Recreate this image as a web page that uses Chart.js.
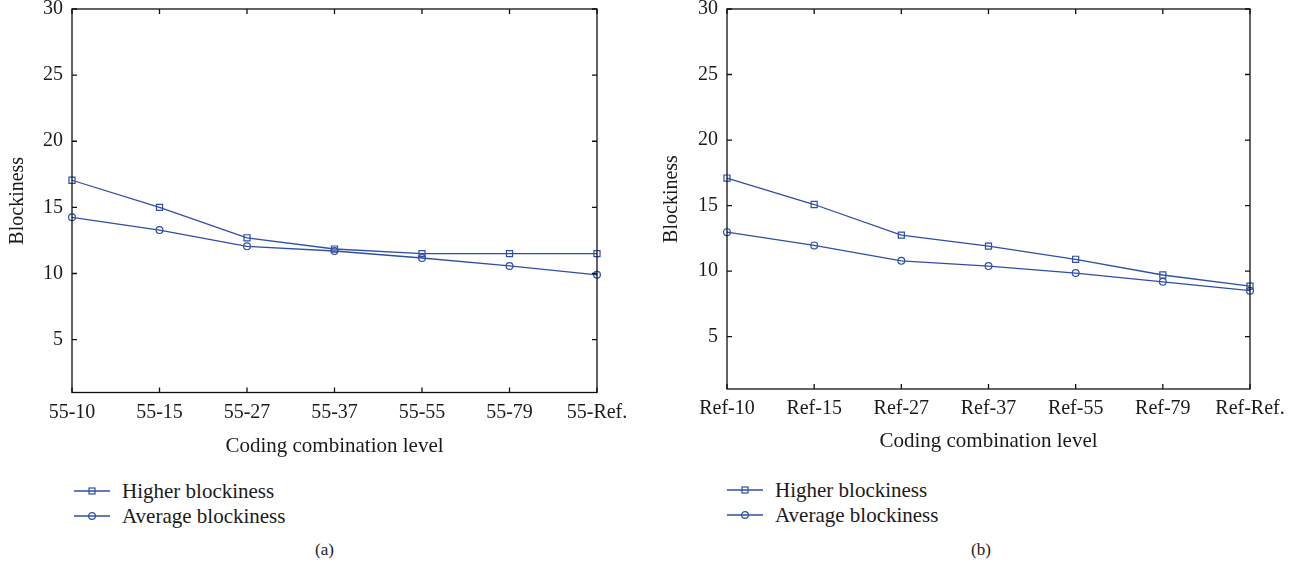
<!DOCTYPE html>
<html>
<head>
<meta charset="UTF-8">
<title>Blockiness vs coding combination level</title>
<script src="https://cdn.jsdelivr.net/npm/chart.js"></script>
<style>
    body { margin: 0; background: #fff; width: 1307px; height: 573px; position: relative; overflow: hidden;
           font-family: "Liberation Serif", "Times New Roman", serif; color: #1a1a1a; }
    .panel { position: absolute; top: 0; height: 460px; }
    .legend { position: absolute; font-size: 21px; line-height: 25px; }
    .legend div { height: 25px; white-space: nowrap; }
    .legend svg { vertical-align: middle; margin-right: 12px; position: relative; top: -2px; }
    .caption { position: absolute; top: 540px; font-size: 17px; }
</style>
</head>
<body>

<div class="panel" style="left: 0; width: 654px;"><canvas id="chart_a"></canvas></div>
<div class="panel" style="left: 654px; width: 653px;"><canvas id="chart_b"></canvas></div>

<div class="legend" style="left: 74px; top: 479px;">
    <div><svg width="36" height="12"><line x1="0" y1="6" x2="36" y2="6" stroke="#2f4fa6" stroke-width="1.3"/><rect x="15" y="3" width="6" height="6" fill="none" stroke="#2f4fa6" stroke-width="1.2"/></svg>Higher blockiness</div>
    <div><svg width="36" height="12"><line x1="0" y1="6" x2="36" y2="6" stroke="#2f4fa6" stroke-width="1.3"/><circle cx="18" cy="6" r="3.4" fill="none" stroke="#2f4fa6" stroke-width="1.2"/></svg>Average blockiness</div>
</div>
<div class="legend" style="left: 727px; top: 478px;">
    <div><svg width="36" height="12"><line x1="0" y1="6" x2="36" y2="6" stroke="#2f4fa6" stroke-width="1.3"/><rect x="15" y="3" width="6" height="6" fill="none" stroke="#2f4fa6" stroke-width="1.2"/></svg>Higher blockiness</div>
    <div><svg width="36" height="12"><line x1="0" y1="6" x2="36" y2="6" stroke="#2f4fa6" stroke-width="1.3"/><circle cx="18" cy="6" r="3.4" fill="none" stroke="#2f4fa6" stroke-width="1.2"/></svg>Average blockiness</div>
</div>

<div class="caption" style="left: 315px;">(a)</div>
<div class="caption" style="left: 971px;">(b)</div>

<script>
// data
const categoriesA = ['55-10', '55-15', '55-27', '55-37', '55-55', '55-79', '55-Ref.'];
const higherA     = [17.05, 15.0, 12.7, 11.85, 11.5, 11.5, 11.5];
const averageA    = [14.25, 13.28, 12.05, 11.7, 11.17, 10.57, 9.9];

const categoriesB = ['Ref-10', 'Ref-15', 'Ref-27', 'Ref-37', 'Ref-55', 'Ref-79', 'Ref-Ref.'];
const higherB     = [17.1, 15.08, 12.74, 11.9, 10.9, 9.7, 8.85];
const averageB    = [12.97, 11.96, 10.78, 10.38, 9.85, 9.18, 8.5];

const yTicks = [5, 10, 15, 20, 25, 30];

const FONT = '"Liberation Serif", "Times New Roman", serif';
const BLUE = '#2f4fa6';

// box round the plot with short inward ticks on all four sides
const framePlugin = {
    id: 'frame',
    afterDraw(chart) {
        const ctx = chart.ctx, a = chart.chartArea;
        const x = chart.scales.x, y = chart.scales.y;
        const len = 5;
        ctx.save();
        ctx.strokeStyle = '#111';
        ctx.lineWidth = 1.3;
        ctx.strokeRect(a.left, a.top, a.right - a.left, a.bottom - a.top);
        ctx.beginPath();
        x.ticks.forEach((t, i) => {
            const px = x.getPixelForTick(i);
            ctx.moveTo(px, a.bottom); ctx.lineTo(px, a.bottom - len);
            ctx.moveTo(px, a.top);    ctx.lineTo(px, a.top + len);
        });
        y.ticks.forEach(t => {
            const py = y.getPixelForValue(t.value);
            ctx.moveTo(a.left, py);  ctx.lineTo(a.left + len, py);
            ctx.moveTo(a.right, py); ctx.lineTo(a.right - len, py);
        });
        ctx.stroke();
        ctx.restore();
    }
};

function makeChart(id, labels, higher, average, opt) {
    const series = (label, data, style, r) => ({
        label: label,
        data: data,
        borderColor: BLUE,
        borderWidth: 1.3,
        pointStyle: style,
        pointRadius: r,
        pointHoverRadius: r,
        pointBorderWidth: 1.2,
        pointBorderColor: BLUE,
        pointBackgroundColor: 'rgba(255,255,255,0)',
        tension: 0,
        fill: false,
        clip: false
    });

    return new Chart(document.getElementById(id), {
        type: 'line',
        data: {
            labels: labels,
            datasets: [
                series('Higher blockiness', higher, 'rect', 4.3),
                series('Average blockiness', average, 'circle', 3.4)
            ]
        },
        options: {
            responsive: true,
            maintainAspectRatio: false,
            animation: false,
            events: [],
            layout: { padding: { left: 0, right: 57, top: 9, bottom: opt.padBottom } },
            plugins: { legend: { display: false }, tooltip: { enabled: false } },
            scales: {
                x: {
                    offset: false,
                    grid: { display: false, drawTicks: false },
                    border: { display: false },
                    ticks: { color: '#1a1a1a', font: { family: FONT, size: 20 }, padding: 8, maxRotation: 0, autoSkip: false },
                    title: { display: true, text: 'Coding combination level', color: '#1a1a1a',
                             font: { family: FONT, size: 21 }, padding: 0 },
                    afterFit: s => { s.height = opt.xHeight; s.paddingLeft = 0; s.paddingRight = 0; }
                },
                y: {
                    min: 1,
                    max: 30,
                    grid: { display: false, drawTicks: false },
                    border: { display: false },
                    ticks: { color: '#1a1a1a', font: { family: FONT, size: 20 }, padding: 9 },
                    afterBuildTicks: s => { s.ticks = yTicks.map(v => ({ value: v })); },
                    title: { display: true, text: 'Blockiness', color: '#1a1a1a',
                             font: { family: FONT, size: 20 }, padding: { top: 6, bottom: 0 } },
                    afterFit: s => { s.width = opt.yWidth; s.paddingTop = 0; s.paddingBottom = 0; }
                }
            }
        },
        plugins: [framePlugin]
    });
}

makeChart('chart_a', categoriesA, higherA, averageA, { padBottom: 0.5, xHeight: 67, yWidth: 72 });
makeChart('chart_b', categoriesB, higherB, averageB, { padBottom: 5.5, xHeight: 65.5, yWidth: 73 });
</script>
</body>
</html>
